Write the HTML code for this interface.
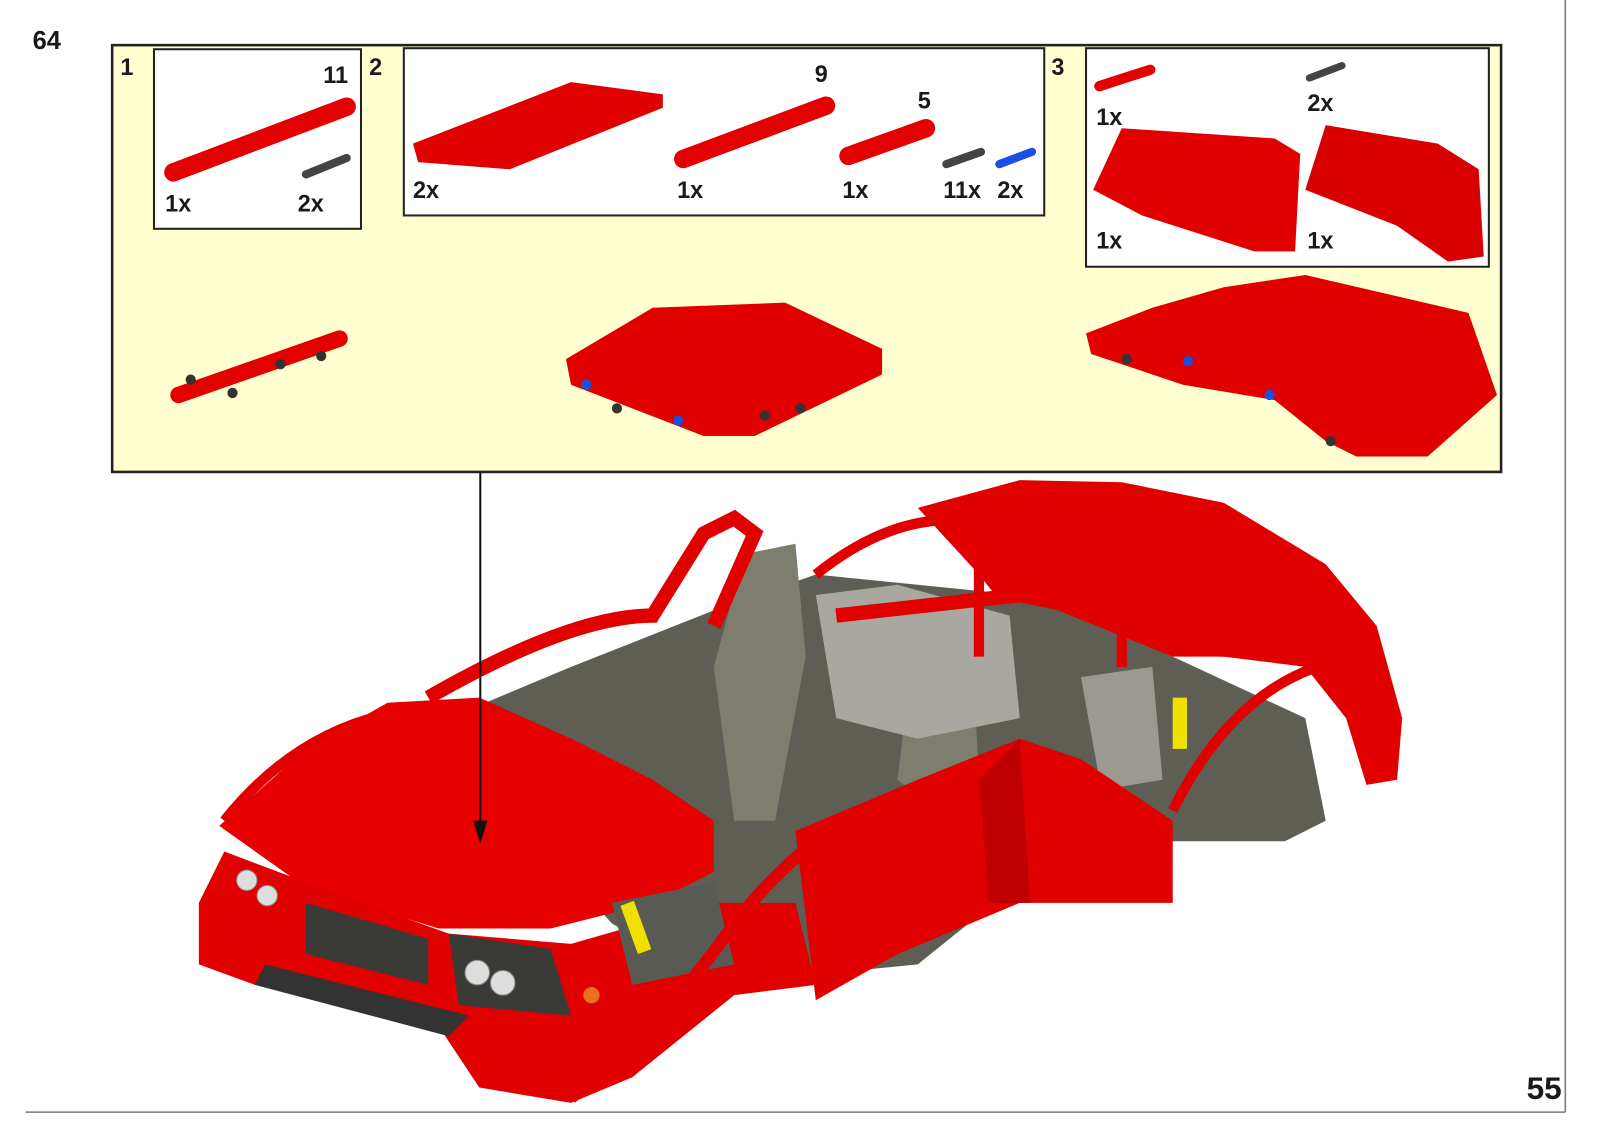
<!DOCTYPE html>
<html><head><meta charset="utf-8"><style>
html,body{margin:0;padding:0;background:#fff;}
svg{display:block;}
text{font-family:"Liberation Sans",Arial,sans-serif;font-weight:bold;fill:#1a1a1a;}
</style></head><body>
<svg width="1600" height="1131" viewBox="0 0 1569 1102.4" preserveAspectRatio="none" xmlns="http://www.w3.org/2000/svg">
<rect width="1569" height="1103" fill="#fff"/>
<text x="32" y="48" font-size="25">64</text>
<text x="1497" y="1071" font-size="31">55</text>
<line x1="25" y1="1084" x2="1535" y2="1084" stroke="#777" stroke-width="1.5"/>
<line x1="1535" y1="0" x2="1535" y2="1084" stroke="#777" stroke-width="1.5"/>

<rect x="110" y="44" width="1362" height="416" fill="#ffffd0" stroke="#222" stroke-width="2.5"/>
<text x="118" y="73" font-size="23">1</text>
<text x="362" y="73" font-size="23">2</text>
<text x="1031" y="73" font-size="23">3</text>
<rect x="151" y="48" width="203" height="175" fill="#fff" stroke="#222" stroke-width="2"/>
<rect x="396" y="47" width="628" height="163" fill="#fff" stroke="#222" stroke-width="2"/>
<rect x="1065" y="47" width="395" height="213" fill="#fff" stroke="#222" stroke-width="2"/>

<line x1="170" y1="168" x2="340" y2="104" stroke="#e30000" stroke-width="18" stroke-linecap="round"/>
<line x1="300" y1="170" x2="340" y2="154" stroke="#444" stroke-width="8" stroke-linecap="round"/>
<text x="317" y="81" font-size="23">11</text>
<text x="162" y="206" font-size="23">1x</text>
<text x="292" y="206" font-size="23">2x</text>
<polygon points="405,140 560,80 650,92 650,105 500,165 410,158" fill="#e00000"/>
<line x1="670" y1="155" x2="810" y2="103" stroke="#e30000" stroke-width="18" stroke-linecap="round"/>
<line x1="832" y1="152" x2="908" y2="125" stroke="#e30000" stroke-width="18" stroke-linecap="round"/>
<line x1="928" y1="160" x2="962" y2="148" stroke="#444" stroke-width="8" stroke-linecap="round"/>
<line x1="980" y1="160" x2="1012" y2="148" stroke="#1a4fe0" stroke-width="8" stroke-linecap="round"/>
<text x="799" y="80" font-size="23">9</text>
<text x="900" y="106" font-size="23">5</text>
<text x="405" y="193" font-size="23">2x</text>
<text x="664" y="193" font-size="23">1x</text>
<text x="826" y="193" font-size="23">1x</text>
<text x="925" y="193" font-size="23">11x</text>
<text x="978" y="193" font-size="23">2x</text>
<line x1="1078" y1="84" x2="1128" y2="68" stroke="#e30000" stroke-width="10" stroke-linecap="round"/>
<line x1="1284" y1="76" x2="1316" y2="64" stroke="#444" stroke-width="7" stroke-linecap="round"/>
<text x="1075" y="122" font-size="23">1x</text>
<text x="1282" y="108" font-size="23">2x</text>
<polygon points="1072,185 1100,125 1250,135 1275,150 1270,245 1230,245 1120,210" fill="#e00000"/>
<polygon points="1280,185 1300,122 1410,140 1450,165 1455,250 1420,255 1370,220" fill="#d80000"/>
<text x="1075" y="242" font-size="23">1x</text>
<text x="1282" y="242" font-size="23">1x</text>
<line x1="175" y1="385" x2="333" y2="330" stroke="#e30000" stroke-width="16" stroke-linecap="round"/>
<circle cx="187" cy="370" r="5" fill="#333"/><circle cx="228" cy="383" r="5" fill="#333"/><circle cx="275" cy="355" r="5" fill="#333"/><circle cx="315" cy="347" r="5" fill="#333"/>
<polygon points="555,350 640,300 770,295 865,340 865,365 740,425 690,425 560,375" fill="#e00000"/>
<circle cx="575" cy="375" r="5" fill="#1a4fe0"/><circle cx="665" cy="410" r="5" fill="#1a4fe0"/><circle cx="605" cy="398" r="5" fill="#333"/><circle cx="785" cy="398" r="5" fill="#333"/><circle cx="750" cy="405" r="5" fill="#333"/>
<polygon points="1065,325 1130,300 1200,280 1280,268 1440,305 1468,385 1400,445 1330,445 1300,430 1250,390 1160,375 1070,345" fill="#e00000"/>
<circle cx="1105" cy="350" r="5" fill="#333"/><circle cx="1165" cy="352" r="5" fill="#1a4fe0"/><circle cx="1245" cy="385" r="5" fill="#1a4fe0"/><circle cx="1305" cy="430" r="5" fill="#333"/>

<!-- car -->
<polygon points="900,495 1000,468 1100,470 1200,490 1300,550 1350,610 1375,700 1370,760 1340,765 1320,700 1280,650 1200,640 1100,640 1000,610 960,560" fill="#e00000"/>
<polygon points="440,700 560,650 700,595 800,560 1000,580 1150,640 1280,700 1300,800 1260,820 1150,820 1000,860 900,940 700,960 600,900 500,790" fill="#5e5e54"/>
<polygon points="730,540 780,530 790,640 760,800 720,800 700,650" fill="#7e7e6e"/>
<polygon points="900,600 950,600 960,750 920,790 880,760" fill="#7e7e6e"/>
<polygon points="800,580 880,570 990,600 1000,700 900,720 820,700" fill="#a8a8a0"/>
<polygon points="1060,660 1130,650 1140,760 1080,770" fill="#9a9a92"/>
<path d="M420,680 Q560,600 640,600 L690,520 L720,505 L740,520 L700,610" fill="none" stroke="#e00000" stroke-width="14"/>
<path d="M800,560 Q900,480 1000,520" fill="none" stroke="#e00000" stroke-width="10"/>
<path d="M820,600 L1000,580 L1150,610" fill="none" stroke="#e00000" stroke-width="14"/>
<path d="M960,520 L960,640 M1100,490 L1100,650 M1200,500 L1200,640" fill="none" stroke="#e00000" stroke-width="10"/>
<path d="M1150,790 Q1220,650 1340,640" fill="none" stroke="#e00000" stroke-width="10"/>
<path d="M220,800 Q300,700 420,690" fill="none" stroke="#e00000" stroke-width="10"/>
<path d="M260,820 Q330,720 420,700" fill="none" stroke="#e00000" stroke-width="8"/>
<polygon points="215,805 300,730 380,685 470,680 560,720 640,760 700,800 700,850 640,880 540,905 430,905 300,865" fill="#e60000"/>
<polygon points="195,880 220,830 300,860 440,910 560,920 700,880 780,880 800,960 720,970 620,1050 560,1075 470,1060 430,1000 250,960 195,940" fill="#e00000"/>
<polygon points="250,960 440,1010 460,990 260,940" fill="#333"/>
<polygon points="300,880 420,915 420,960 300,930" fill="#3a3a36"/>
<polygon points="440,910 540,925 560,990 450,980" fill="#3a3a36"/>
<polygon points="600,880 700,860 720,940 620,960" fill="#5a5a55"/>
<circle cx="242" cy="858" r="10" fill="#ddd" stroke="#888"/><circle cx="262" cy="873" r="10" fill="#ddd" stroke="#888"/>
<circle cx="468" cy="948" r="12" fill="#ddd" stroke="#888"/><circle cx="493" cy="958" r="12" fill="#ddd" stroke="#888"/>
<circle cx="580" cy="970" r="8" fill="#e87020"/>
<rect x="615" y="880" width="14" height="50" fill="#f0e000" transform="rotate(-20 620 900)"/>
<rect x="1150" y="680" width="14" height="50" fill="#f0e000"/>
<polygon points="780,810 900,760 1000,720 1060,740 1150,800 1150,880 1000,880 880,930 800,975" fill="#e00000"/>
<polygon points="960,760 1000,720 1010,880 970,880" fill="#c00000"/>
<path d="M560,1070 Q650,1000 720,900 Q760,850 800,820" fill="none" stroke="#e00000" stroke-width="12"/>

<line x1="471" y1="460" x2="471" y2="805" stroke="#111" stroke-width="2"/>
<polygon points="464,800 478,800 471,822" fill="#111"/>
</svg>
</body></html>
